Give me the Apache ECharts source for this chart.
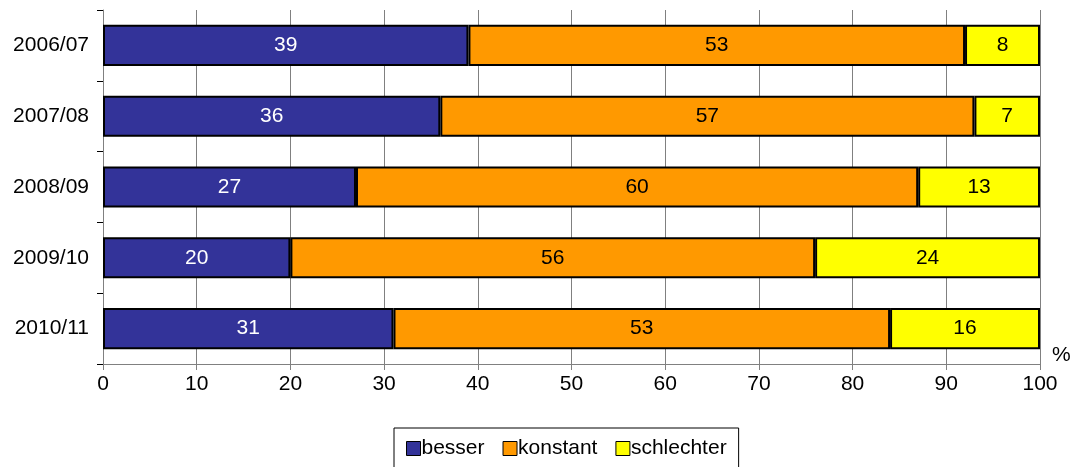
<!DOCTYPE html>
<html>
<head>
<meta charset="utf-8">
<script src="https://cdn.jsdelivr.net/npm/echarts@6/dist/echarts.min.js"></script>
<style>
html,body{margin:0;padding:0;background:#fff;}
#bar{width:1077px;height:467px;}
</style>
</head>
<body>
<div id="bar"></div>
<script>
var jahre = ['2006/07','2007/08','2008/09','2009/10','2010/11'];//Kategorien
var besser = [39,36,27,20,31];
var konstant = [53,57,60,56,53];
var schlechter = [8,7,13,24,16];
var xTicks = [0,10,20,30,40,50,60,70,80,90,100];

var myChart = echarts.init(document.getElementById('bar'));
var schrift = 'Liberation Sans, Arial, sans-serif';

function reihe(name, farbe, werte, textfarbe){
	return {
		name: name,
		type: 'bar',
		stack: 'gesamt',
		barCategoryGap: '42%',
		data: werte,
		itemStyle: {color: farbe, borderColor: '#000', borderWidth: 2},
		label: {show: true, position: 'inside', color: textfarbe, fontSize: 21, fontFamily: schrift}
	};
}

option = {
	animation: false,
	textStyle: {fontFamily: schrift},
	grid: {left: 103, right: 37, top: 10, bottom: 103},
	legend: {
		bottom: -6,
		left: 394,
		data: ['besser','konstant','schlechter'],
		itemWidth: 14,
		itemHeight: 14,
		itemGap: 18,
		icon: 'rect',
		borderColor: '#000',
		borderWidth: 1,
		padding: [10, 12, 14, 12],
		textStyle: {fontSize: 21, color: '#000', padding: [0, 0, 0, -4]},
		itemStyle: {borderColor: '#000', borderWidth: 1}
	},
	xAxis: {
		type: 'value',
		min: 0,
		max: 100,
		interval: 10,
		name: '%',
		nameLocation: 'end',
		nameGap: 12,
		nameTextStyle: {fontSize: 21, color: '#000', verticalAlign: 'bottom', padding: [0, 0, -2, 0]},
		axisLine: {show: true, lineStyle: {color: '#808080'}},
		axisTick: {show: true, length: 6, lineStyle: {color: '#808080'}},
		axisLabel: {fontSize: 21, color: '#000', margin: 10, formatter: function(v){ return xTicks.indexOf(v) >= 0 ? v : ''; }},
		splitLine: {show: true, lineStyle: {color: '#808080', width: 1}}
	},
	yAxis: {
		type: 'category',
		inverse: true,
		data: jahre,
		axisLine: {show: true, lineStyle: {color: '#808080'}},
		axisTick: {show: true, length: 6, lineStyle: {color: '#000'}},
		axisLabel: {fontSize: 21, color: '#000', margin: 14}
	},
	series: [
		reihe('besser', '#333399', besser, '#fff'),
		reihe('konstant', '#FF9900', konstant, '#000'),
		reihe('schlechter', '#FFFF00', schlechter, '#000')
	]
};
myChart.setOption(option);
</script>
</body>
</html>
